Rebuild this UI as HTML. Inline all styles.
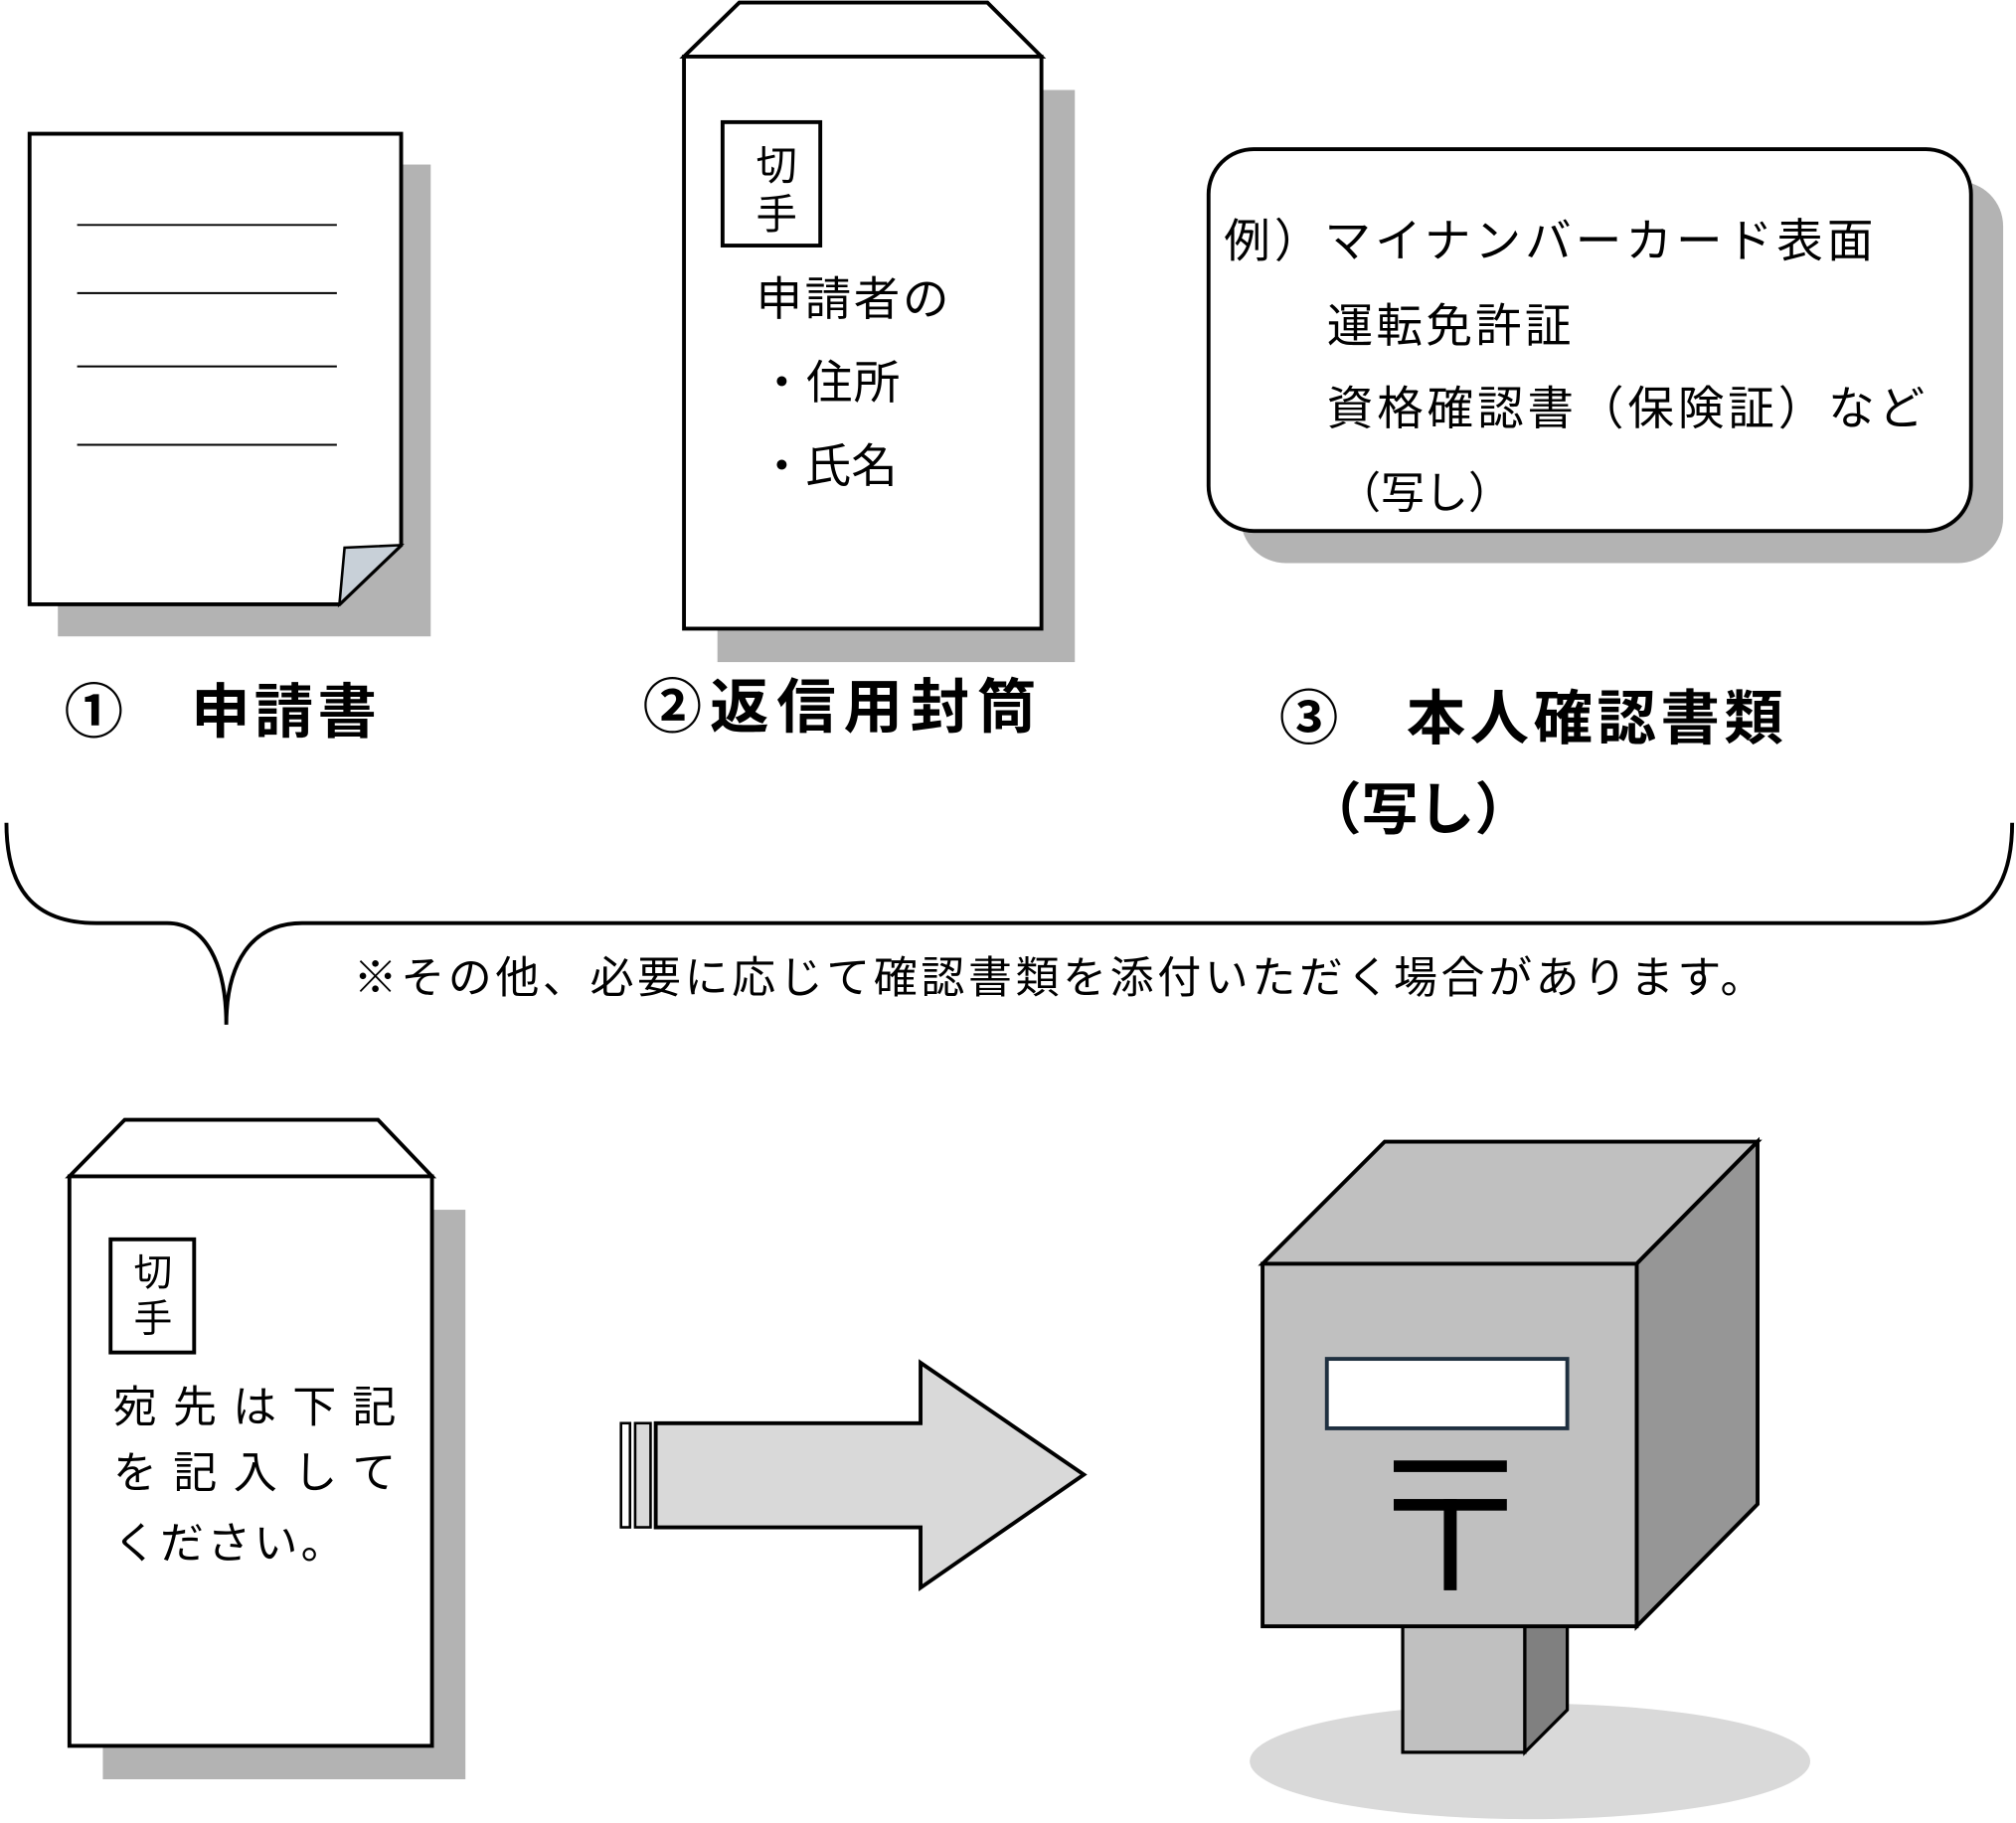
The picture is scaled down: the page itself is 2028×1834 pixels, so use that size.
<!DOCTYPE html>
<html><head><meta charset="utf-8"><style>
html,body{margin:0;padding:0;background:#fff;}
svg{display:block;}
text{font-family:"Liberation Sans","Noto Sans CJK JP",sans-serif;fill:#000;}
.b{font-weight:bold;}
</style></head><body>
<svg width="2028" height="1834" viewBox="0 0 1568 1418" xmlns="http://www.w3.org/2000/svg">
<rect x="45" y="128" width="290" height="367" fill="#b3b3b3"/>
<path d="M23 104 H312 V424 L264 470 H23 Z" fill="#fff" stroke="#000" stroke-width="3"/>
<path d="M264 470 L268 426 L312 424 Z" fill="#c8d0d8" stroke="#000" stroke-width="2"/>
<g stroke="#000" stroke-width="1.5">
<line x1="60" y1="175" x2="262" y2="175"/><line x1="60" y1="228" x2="262" y2="228"/>
<line x1="60" y1="285" x2="262" y2="285"/><line x1="60" y1="346" x2="262" y2="346"/>
</g>
<rect x="558" y="70" width="278" height="445" fill="#b3b3b3"/>
<path d="M532 44 L575 2 H768 L810 44 Z" fill="#fff" stroke="#000" stroke-width="3"/>
<rect x="532" y="44" width="278" height="445" fill="#fff" stroke="#000" stroke-width="3"/>
<rect x="562" y="95" width="76" height="96" fill="#fff" stroke="#000" stroke-width="3"/>
<text x="588" y="140" font-size="32">切</text><text x="588" y="178" font-size="32">手</text>
<text x="588" y="245" font-size="36" textLength="150" lengthAdjust="spacing">申請者の</text>
<text x="590" y="310" font-size="36" textLength="110" lengthAdjust="spacing">・住所</text>
<text x="590" y="375" font-size="36" textLength="108" lengthAdjust="spacing">・氏名</text>
<rect x="965" y="141" width="593" height="297" rx="35" fill="#b3b3b3"/>
<rect x="940" y="116" width="593" height="297" rx="35" fill="#fff" stroke="#000" stroke-width="3"/>
<text x="952" y="200" font-size="36" textLength="505" lengthAdjust="spacing">例）マイナンバーカード表面</text>
<text x="1032" y="266" font-size="36" textLength="190" lengthAdjust="spacing">運転免許証</text>
<text x="1032" y="330" font-size="36" textLength="465" lengthAdjust="spacing">資格確認書（保険証）など</text>
<text x="1040" y="395" font-size="34">（写し）</text>
<text class="b" x="50" y="570" font-size="46" textLength="243" lengthAdjust="spacing">①　申請書</text>
<text class="b" x="500" y="566" font-size="46" textLength="306" lengthAdjust="spacing">②返信用封筒</text>
<text class="b" x="995" y="575" font-size="46" textLength="392" lengthAdjust="spacing">③　本人確認書類</text>
<text class="b" x="1015" y="645" font-size="44">（写し）</text>
<path d="M5 640 C5 690 25 718 75 718 H130 C160 718 176 750 176 797 C176 750 195 718 235 718 H1495 C1545 718 1565 690 1565 640" fill="none" stroke="#000" stroke-width="3"/>
<text x="275" y="772" font-size="34" textLength="1097" lengthAdjust="spacing">※その他、必要に応じて確認書類を添付いただく場合があります。</text>
<rect x="80" y="941" width="282" height="443" fill="#b3b3b3"/>
<path d="M54 915 L97 871 H294 L336 915 Z" fill="#fff" stroke="#000" stroke-width="3"/>
<rect x="54" y="915" width="282" height="443" fill="#fff" stroke="#000" stroke-width="3"/>
<rect x="86" y="964" width="65" height="88" fill="#fff" stroke="#000" stroke-width="3"/>
<text x="104" y="1000" font-size="30">切</text><text x="104" y="1036" font-size="30">手</text>
<text x="88" y="1106" font-size="34" textLength="220" lengthAdjust="spacing">宛先は下記</text>
<text x="88" y="1157" font-size="34" textLength="220" lengthAdjust="spacing">を記入して</text>
<text x="88" y="1212" font-size="34" textLength="180" lengthAdjust="spacing">ください。</text>
<path d="M510 1107 H716 V1060 L843 1147 L716 1235 V1188 H510 Z" fill="#d9d9d9" stroke="#000" stroke-width="3"/>
<rect x="483" y="1107" width="7" height="81" fill="#fff" stroke="#000" stroke-width="2"/>
<rect x="494" y="1107" width="12" height="81" fill="#d9d9d9" stroke="#000" stroke-width="2"/>
<ellipse cx="1190" cy="1370" rx="218" ry="45" fill="#d9d9d9"/>
<path d="M1091 1265 H1186 V1363 H1091 Z" fill="#c0c0c0" stroke="#000" stroke-width="2.5"/>
<path d="M1186 1265 H1219 V1330 L1186 1363 Z" fill="#808080" stroke="#000" stroke-width="2.5"/>
<path d="M982 983 L1077 888 H1367 L1273 983 Z" fill="#c0c0c0" stroke="#000" stroke-width="3"/>
<path d="M1273 983 L1367 888 V1170 L1273 1265 Z" fill="#969696" stroke="#000" stroke-width="3"/>
<rect x="982" y="983" width="291" height="282" fill="#c0c0c0" stroke="#000" stroke-width="3"/>
<rect x="1032" y="1057" width="187" height="54" fill="#fff" stroke="#1f3040" stroke-width="3"/>
<rect x="1084" y="1136" width="88" height="9" fill="#000"/>
<rect x="1084" y="1166" width="88" height="9" fill="#000"/>
<rect x="1123" y="1166" width="10" height="71" fill="#000"/>
</svg>
</body></html>
